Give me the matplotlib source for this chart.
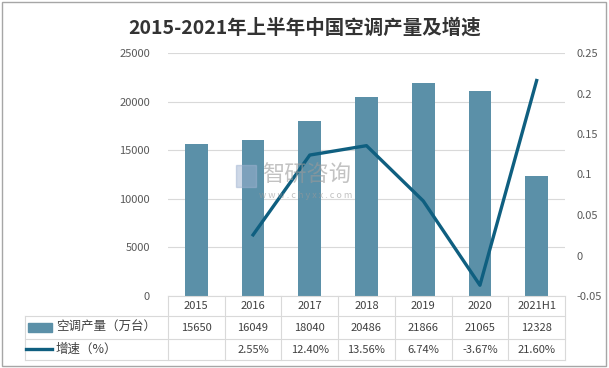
import matplotlib
matplotlib.use("Agg")
import matplotlib.pyplot as plt
from matplotlib.patches import Rectangle
from matplotlib.lines import Line2D

plt.rcParams['font.family'] = ['Noto Sans CJK SC', 'DejaVu Sans']

categories = ["2015", "2016", "2017", "2018", "2019", "2020", "2021H1"]
production = [15650, 16049, 18040, 20486, 21866, 21065, 12328]
growth = [None, 0.0255, 0.1240, 0.1356, 0.0674, -0.0367, 0.2160]
growth_labels = ["", "2.55%", "12.40%", "13.56%", "6.74%", "-3.67%", "21.60%"]
series_names = ["空调产量（万台）", "增速（%）"]
title = "2015-2021年上半年中国空调产量及增速"

W, H = 609, 368
BAR_C = "#5b90a8"
LINE_C = "#0f5f80"
GRID_C = "#d9d9d9"
TXT_C = "#595959"

fig = plt.figure(figsize=(W / 100, H / 100), dpi=100)

def fx(px):
    return px / W

def fy(py):
    return 1 - py / H

x0, x1, ytop, ybot = 168, 565, 53, 296
ax = fig.add_axes([fx(x0), fy(ybot), fx(x1) - fx(x0), fy(ytop) - fy(ybot)])
n = len(categories)
xs = list(range(n))
ax.bar(xs, production, width=0.4, color=BAR_C, zorder=2)
ax.set_xlim(-0.5, n - 0.5)
ax.set_ylim(0, 25000)
ax.set_yticks(range(0, 25001, 5000))
ax.yaxis.grid(True, color=GRID_C, linewidth=0.8, zorder=0)
ax.set_axisbelow(True)
for s in ["top", "right", "left"]:
    ax.spines[s].set_visible(False)
ax.spines["bottom"].set_color(GRID_C)
ax.set_xticks([])
ax.tick_params(axis="y", length=0, labelsize=8, labelcolor=TXT_C, pad=13)

ax2 = ax.twinx()
gx = [x for x, g in zip(xs, growth) if g is not None]
gy = [g for g in growth if g is not None]
ax2.plot(gx, gy, color=LINE_C, linewidth=2.4, zorder=3)
ax2.set_ylim(-0.05, 0.25)
ax2.set_yticks([-0.05, 0, 0.05, 0.1, 0.15, 0.2, 0.25])
ax2.set_yticklabels(["-0.05", "0", "0.05", "0.1", "0.15", "0.2", "0.25"])
for s in ["top", "right", "left", "bottom"]:
    ax2.spines[s].set_visible(False)
ax2.tick_params(axis="y", length=0, labelsize=8, labelcolor=TXT_C, pad=8)

# Title
fig.text(0.5, fy(28), title, ha="center", va="center", fontsize=14,
         fontweight="bold", color="#333333")

# Table
colw = (x1 - x0) / n
tl = 25
lw = 0.8
def hline(y, xa, xb):
    fig.add_artist(Line2D([fx(xa), fx(xb)], [fy(y), fy(y)], color=GRID_C, lw=lw))
def vline(x, ya, yb):
    fig.add_artist(Line2D([fx(x), fx(x)], [fy(ya), fy(yb)], color=GRID_C, lw=lw))

hline(316, tl, x1)
hline(339, tl, x1)
hline(360, tl, x1)
for k in range(n + 1):
    vline(x0 + k * colw, 296, 360)
vline(tl, 316, 360)

for k, c in enumerate(categories):
    cx = x0 + (k + 0.5) * colw
    fig.text(fx(cx), fy(306), c, ha="center", va="center", fontsize=8, color="#404040")
    fig.text(fx(cx), fy(328), str(production[k]), ha="center", va="center",
             fontsize=8, color="#404040")
    fig.text(fx(cx), fy(350), growth_labels[k], ha="center", va="center",
             fontsize=8, color="#404040")

fig.add_artist(Rectangle((fx(28), fy(332)), fx(52) - fx(28), fy(323) - fy(332),
                         color=BAR_C, transform=fig.transFigure))
fig.add_artist(Line2D([fx(26), fx(52)], [fy(349), fy(349)], color=LINE_C, lw=2.4))
fig.text(fx(56), fy(327), series_names[0], ha="left", va="center", fontsize=9, color="#404040")
fig.text(fx(56), fy(349), series_names[1], ha="left", va="center", fontsize=9, color="#404040")

# Watermark
fig.text(fx(262), fy(175), "智研咨询", ha="left", va="center", fontsize=16,
         color="#9a9a9a", alpha=0.6)
fig.text(fx(306), fy(196), "w w w . c h y x x . c o m", ha="center", va="center",
         fontsize=6.5, color="#9a9a9a", alpha=0.6)
fig.add_artist(Rectangle((fx(236), fy(187)), fx(256) - fx(236), fy(165) - fy(187),
                         color="#9fb3d0", alpha=0.5, transform=fig.transFigure))

# Border
fig.add_artist(Rectangle((fx(2), fy(366)), fx(606) - fx(2), fy(2) - fy(366),
                         fill=False, edgecolor="#a6a6a6", lw=1, transform=fig.transFigure))

fig.savefig("out.png", dpi=100)
